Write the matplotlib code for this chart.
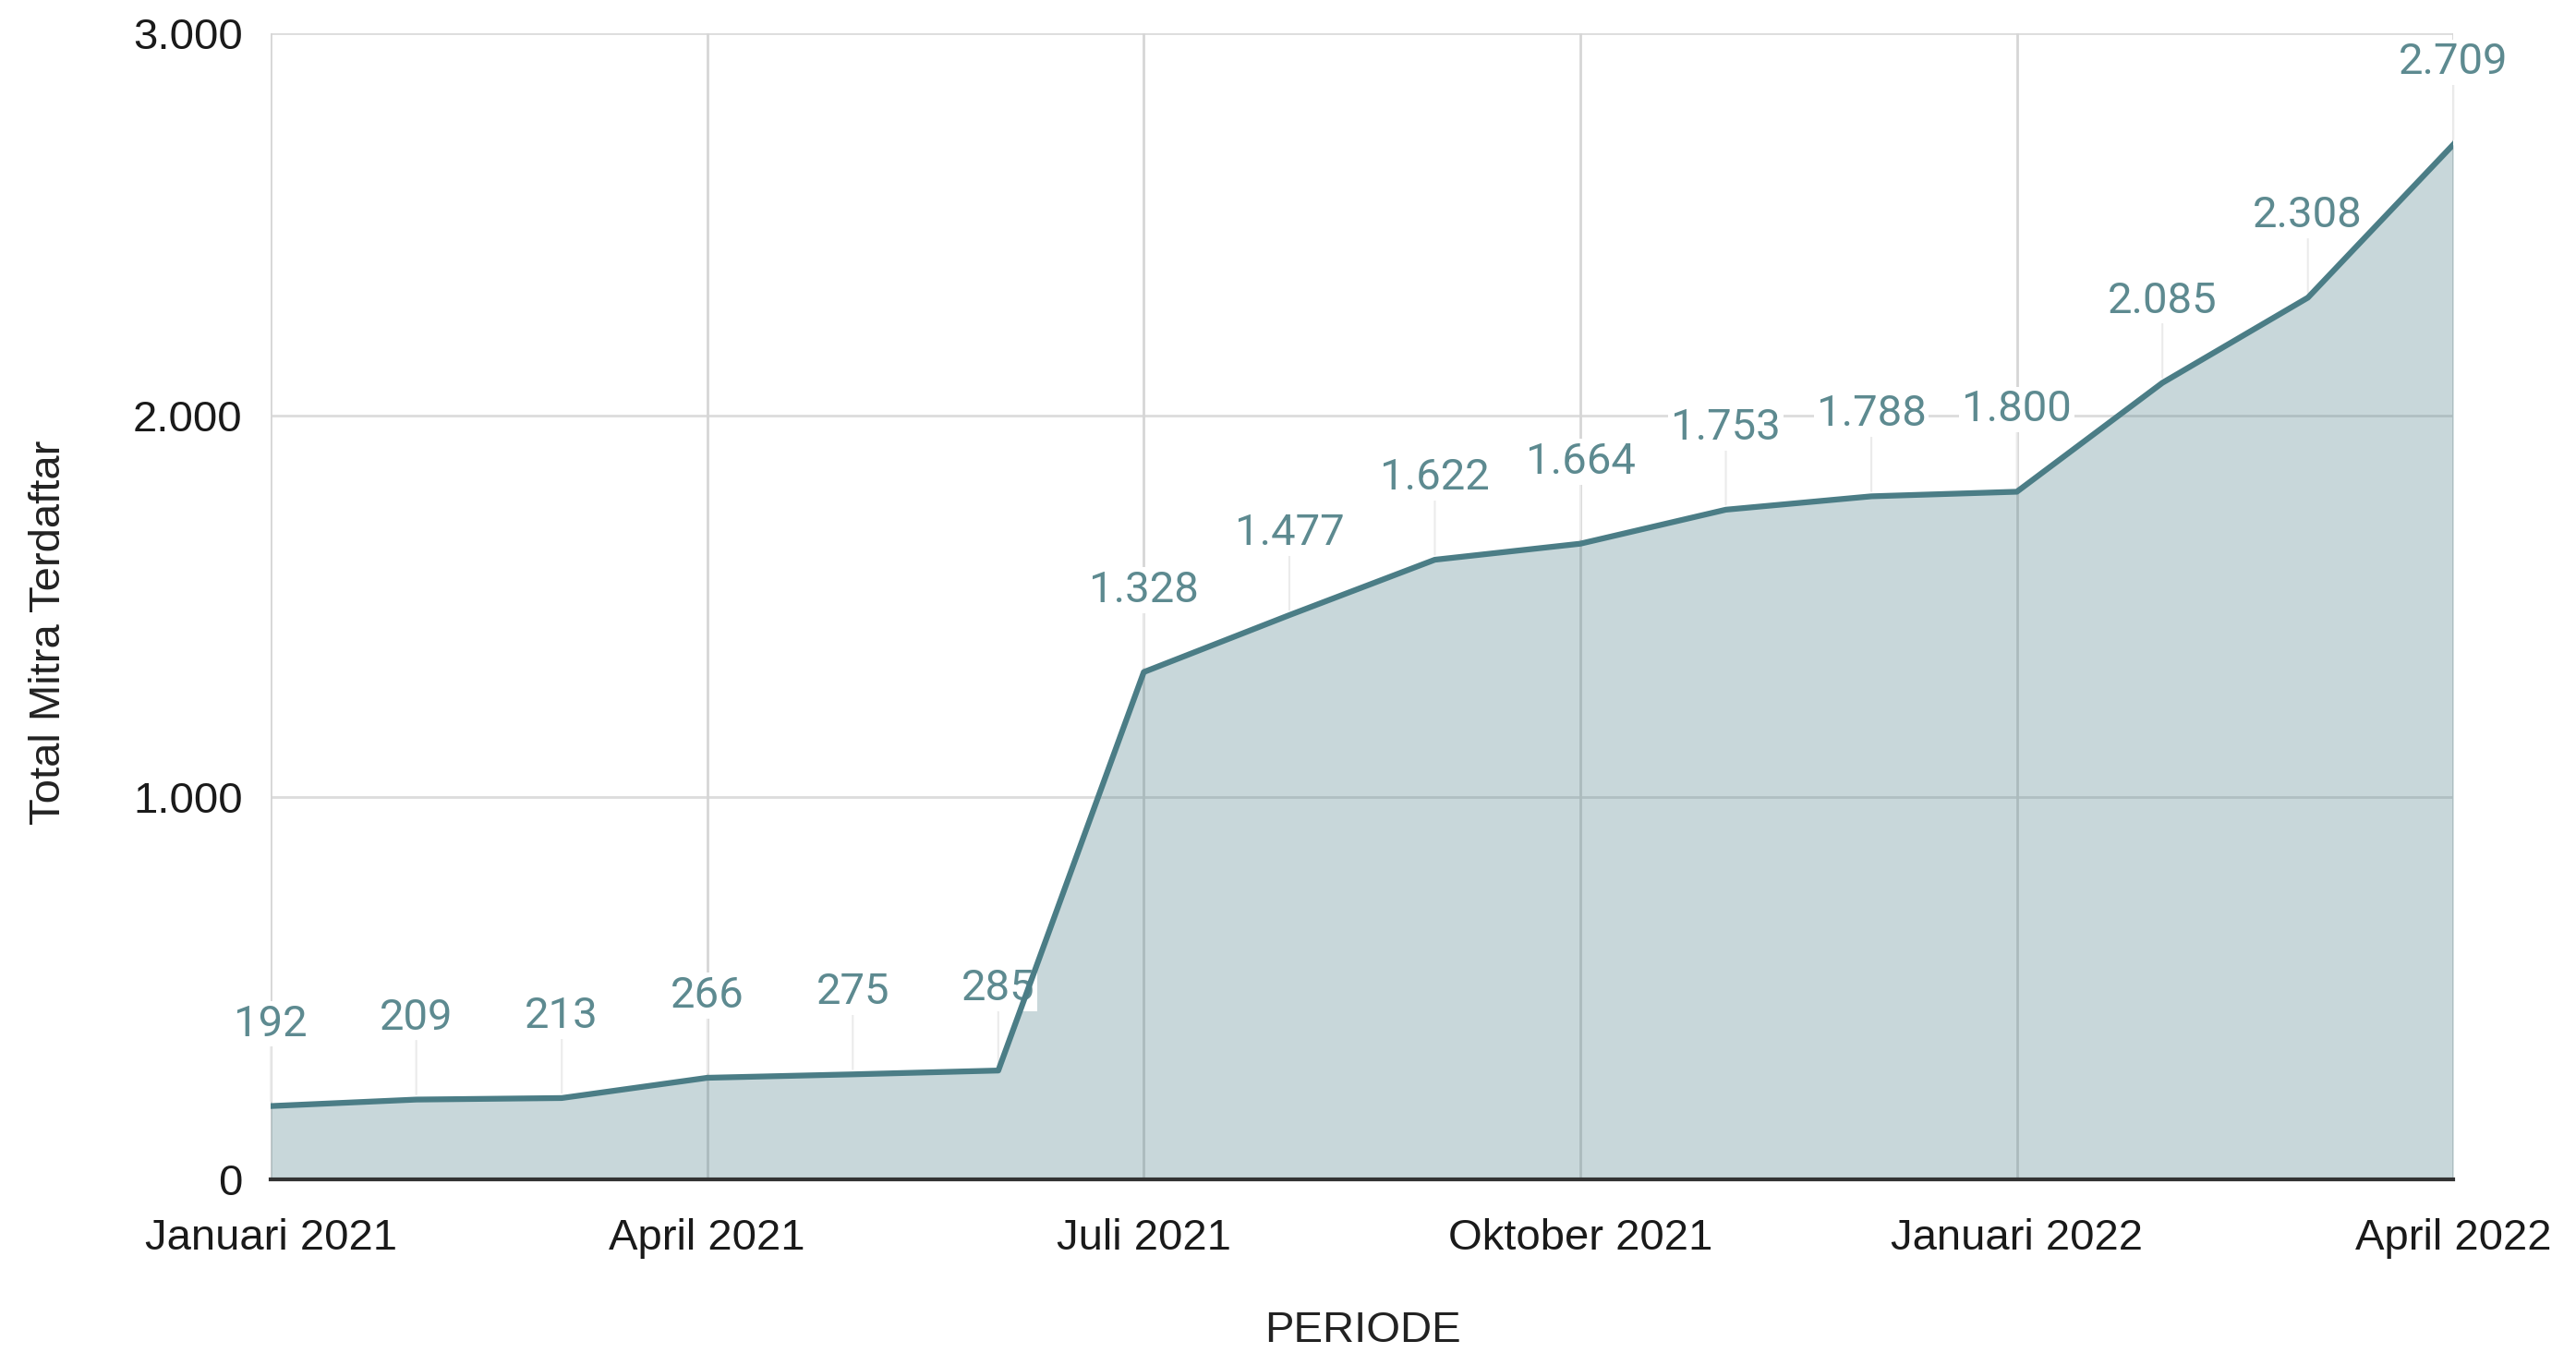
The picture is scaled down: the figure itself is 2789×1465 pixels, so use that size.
import matplotlib.pyplot as plt

# data bulanan: Januari 2021 - April 2022
bulan = ["Jan 2021", "Feb 2021", "Mar 2021", "Apr 2021", "Mei 2021", "Jun 2021",
         "Jul 2021", "Agu 2021", "Sep 2021", "Okt 2021", "Nov 2021", "Des 2021",
         "Jan 2022", "Feb 2022", "Mar 2022", "Apr 2022"]
total_mitra = [192, 209, 213, 266, 275, 285, 1328, 1477, 1622, 1664, 1753, 1788,
               1800, 2085, 2308, 2709]
tick_pos = [0, 3, 6, 9, 12, 15]
tick_labels = ["Januari 2021", "April 2021", "Juli 2021", "Oktober 2021",
               "Januari 2022", "April 2022"]
y_ticks = [0, 1000, 2000, 3000]

warna_garis = "#4b7d86"
warna_label = "#5d8a90"

fig = plt.figure(figsize=(27.89, 14.65), dpi=100)
ax = fig.add_axes([0.1051, 0.1283, 0.8473, 0.8471])

x = list(range(len(bulan)))

# grid
for yt in y_ticks[1:]:
    ax.axhline(yt, color="#dcdcdc", lw=2, zorder=0)
for xt in tick_pos:
    ax.axvline(xt, color="#d6d6d6", lw=2, zorder=0)

ax.fill_between(x, total_mitra, 0, color=warna_garis, alpha=0.3, lw=0, zorder=1)
ax.plot(x, total_mitra, color=warna_garis, lw=4.5, zorder=6,
        solid_joinstyle="round")

for xi, v in zip(x, total_mitra):
    teks = f"{v:,}".replace(",", ".")
    ax.annotate(teks, xy=(xi, v), xytext=(0, 89), textcoords="offset pixels",
                ha="center", va="center", fontsize=34, color=warna_label,
                family="Roboto", zorder=5, annotation_clip=False,
                bbox=dict(boxstyle="square,pad=0.06", fc="white", ec="none"),
                arrowprops=dict(arrowstyle="-", color="#ebebeb", lw=1.5,
                                shrinkA=0, shrinkB=4))

ax.set_xlim(0, 15)
ax.set_ylim(0, 3000)
ax.set_xticks(tick_pos)
ax.set_xticklabels(tick_labels)
ax.set_yticks(y_ticks)
ax.set_yticklabels([f"{v:,}".replace(",", ".") for v in y_ticks])
ax.tick_params(length=0, labelsize=34, colors="#1a1a1a")
ax.tick_params(axis="x", pad=30)
ax.tick_params(axis="y", pad=22)
for lbl in ax.get_xticklabels() + ax.get_yticklabels():
    lbl.set_family("Liberation Sans")

for s in ["top", "left", "right"]:
    ax.spines[s].set_visible(False)
ax.spines["bottom"].set_color("#333333")
ax.spines["bottom"].set_linewidth(3)
ax.spines["bottom"].set_zorder(7)

fig.text(0.5291, 1 - 1441 / 1465, "PERIODE", ha="center", va="center",
         fontsize=34, family="Liberation Sans", color="#222222")
fig.text(53 / 2789, 1 - 685 / 1465, "Total Mitra Terdaftar", ha="center", va="center",
         rotation=90, fontsize=34, family="Liberation Sans", color="#222222")

fig.savefig("out.png", dpi=100, facecolor="white")
